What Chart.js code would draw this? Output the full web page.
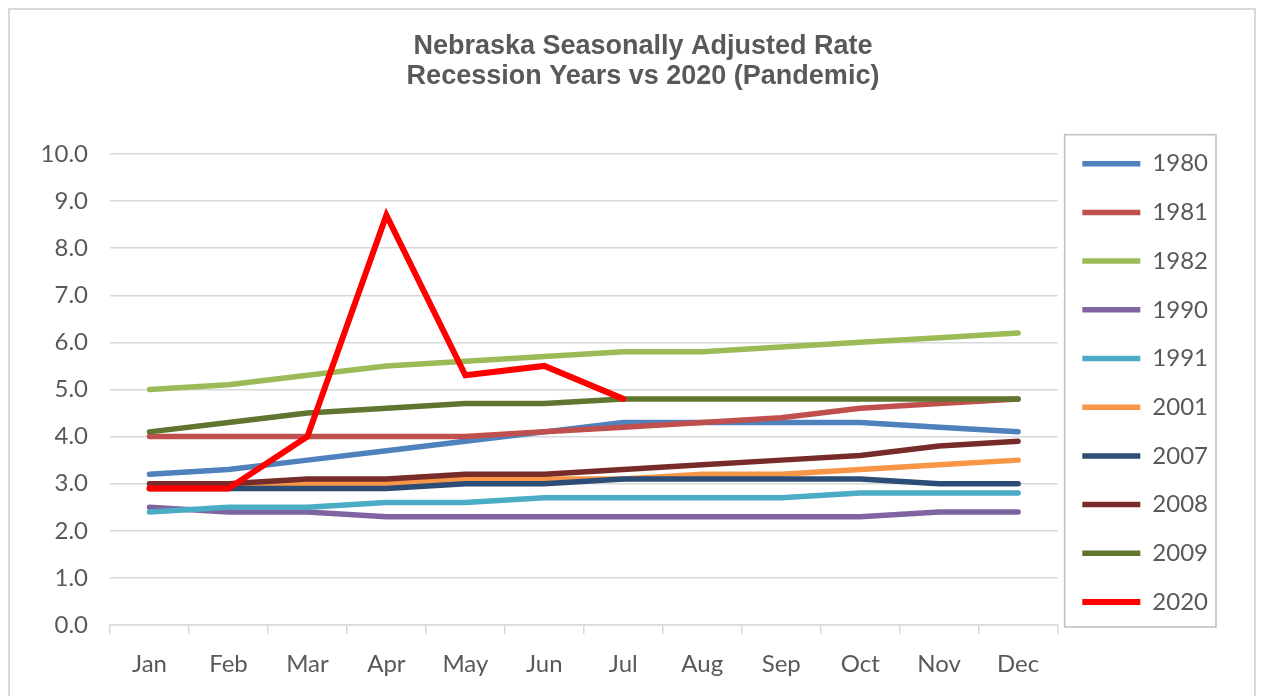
<!DOCTYPE html>
<html>
<head>
<meta charset="utf-8">
<script src="https://cdn.jsdelivr.net/npm/chart.js@4"></script>
<style>
  html, body { margin: 0; padding: 0; background: #ffffff; }
  #wrap { width: 1266px; height: 696px; }
</style>
</head>
<body>
<div id="wrap"><canvas id="rateChart" width="1266" height="696"></canvas></div>
<script>
// months on the x axis
const months = ['Jan', 'Feb', 'Mar', 'Apr', 'May', 'Jun', 'Jul', 'Aug', 'Sep', 'Oct', 'Nov', 'Dec'];

// unemployment rate per year
const rate1980 = [3.2, 3.3, 3.5, 3.7, 3.9, 4.1, 4.3, 4.3, 4.3, 4.3, 4.2, 4.1];
const rate1981 = [4.0, 4.0, 4.0, 4.0, 4.0, 4.1, 4.2, 4.3, 4.4, 4.6, 4.7, 4.8];
const rate1982 = [5.0, 5.1, 5.3, 5.5, 5.6, 5.7, 5.8, 5.8, 5.9, 6.0, 6.1, 6.2];
const rate1990 = [2.5, 2.4, 2.4, 2.3, 2.3, 2.3, 2.3, 2.3, 2.3, 2.3, 2.4, 2.4];
const rate1991 = [2.4, 2.5, 2.5, 2.6, 2.6, 2.7, 2.7, 2.7, 2.7, 2.8, 2.8, 2.8];
const rate2001 = [2.9, 2.9, 3.0, 3.0, 3.1, 3.1, 3.1, 3.2, 3.2, 3.3, 3.4, 3.5];
const rate2007 = [2.9, 2.9, 2.9, 2.9, 3.0, 3.0, 3.1, 3.1, 3.1, 3.1, 3.0, 3.0];
const rate2008 = [3.0, 3.0, 3.1, 3.1, 3.2, 3.2, 3.3, 3.4, 3.5, 3.6, 3.8, 3.9];
const rate2009 = [4.1, 4.3, 4.5, 4.6, 4.7, 4.7, 4.8, 4.8, 4.8, 4.8, 4.8, 4.8];
const rate2020 = [2.9, 2.9, 4.0, 8.7, 5.3, 5.5, 4.8, null, null, null, null, null];

const years = ['1980', '1981', '1982', '1990', '1991', '2001', '2007', '2008', '2009', '2020'];
const series = [rate1980, rate1981, rate1982, rate1990, rate1991, rate2001, rate2007, rate2008, rate2009, rate2020];
const colors = ['#4F81BD', '#C0504D', '#9BBB59', '#8064A2', '#4BACC6', '#F79646', '#2C4D75', '#772C2A', '#5F7530', '#FF0000'];

const yTicks = [0, 1, 2, 3, 4, 5, 6, 7, 8, 9, 10];

const textGray = '#595959';
const gridGray = '#d9d9d9';
const tickFont = { family: 'Lato, "Open Sans", sans-serif', size: 24 };

// outer frame + box around the legend items
const framePlugin = {
    id: 'frames',
    afterLayout(chart) {
        // title sits a bit right of the canvas centre in the original
        const t = chart.titleBlock;
        if (t) {
            t.left += 24;
            t.right += 24;
        }
    },
    afterDraw(chart) {
        const ctx = chart.ctx;
        ctx.save();
        ctx.strokeStyle = gridGray;
        ctx.lineWidth = 2;
        ctx.strokeRect(9, 9, 1246, 700);

        const lg = chart.legend;
        const hits = lg.legendHitBoxes;
        if (hits && hits.length) {
            const first = hits[0];
            const last = hits[hits.length - 1];
            const top = first.top - 17;
            const bottom = last.top + last.height + 13;
            ctx.strokeStyle = '#bfbfbf';
            ctx.lineWidth = 1.5;
            ctx.strokeRect(lg.left + 7, top, lg.right - lg.left - 9, bottom - top);
        }
        ctx.restore();
    }
};

const datasets = years.map((year, i) => ({
    label: year,
    data: series[i],
    borderColor: colors[i],
    backgroundColor: colors[i],
    borderWidth: year === '2020' ? 6 : 5.5,
    borderCapStyle: 'round',
    borderJoinStyle: year === '2020' ? 'miter' : 'round',
    pointRadius: 0,
    pointHoverRadius: 0,
    tension: 0,
    spanGaps: false,
    order: years.length - i
}));

const ctx = document.getElementById('rateChart').getContext('2d');
new Chart(ctx, {
    type: 'line',
    data: { labels: months, datasets: datasets },
    options: {
        responsive: false,
        animation: false,
        layout: { padding: { left: 20, right: 48, top: 20, bottom: 10 } },
        plugins: {
            title: {
                display: true,
                text: ['Nebraska Seasonally Adjusted Rate', 'Recession Years vs 2020 (Pandemic)'],
                color: textGray,
                font: { family: '"Liberation Sans Narrow", "Liberation Sans", Arial, sans-serif', size: 27, weight: 'bold', lineHeight: 1.11 },
                padding: { top: 12, bottom: 62 }
            },
            legend: {
                position: 'right',
                align: 'start',
                title: {
                    // empty spacer to push the items down
                    display: true,
                    text: ' ',
                    font: { size: 1, lineHeight: 1 },
                    padding: { top: 106, bottom: 0 }
                },
                labels: {
                    color: textGray,
                    font: { family: tickFont.family, size: 24, lineHeight: 1.07 },
                    usePointStyle: true,
                    pointStyle: 'line',
                    pointStyleWidth: 58,
                    boxHeight: 5,
                    padding: 24.7,
                    sort: (a, b) => a.datasetIndex - b.datasetIndex
                }
            },
            tooltip: { enabled: false }
        },
        scales: {
            x: {
                offset: true,
                afterFit(scale) {
                    scale.height = 61;
                },
                grid: {
                    offset: true,
                    drawOnChartArea: false,
                    drawTicks: true,
                    tickLength: 9,
                    color: gridGray,
                    lineWidth: 1.5
                },
                border: { display: true, color: gridGray, width: 1.5 },
                ticks: { color: textGray, font: tickFont, padding: 16, maxRotation: 0 }
            },
            y: {
                min: 0,
                max: 10,
                afterBuildTicks(scale) {
                    scale.ticks = yTicks.map(v => ({ value: v }));
                },
                afterFit(scale) {
                    scale.width = 90;
                },
                grid: { color: gridGray, lineWidth: 1.5, drawTicks: false },
                border: { display: false },
                ticks: {
                    color: textGray,
                    font: tickFont,
                    padding: 22,
                    callback: v => Number(v).toFixed(1)
                }
            }
        }
    },
    plugins: [framePlugin]
});
</script>
</body>
</html>
